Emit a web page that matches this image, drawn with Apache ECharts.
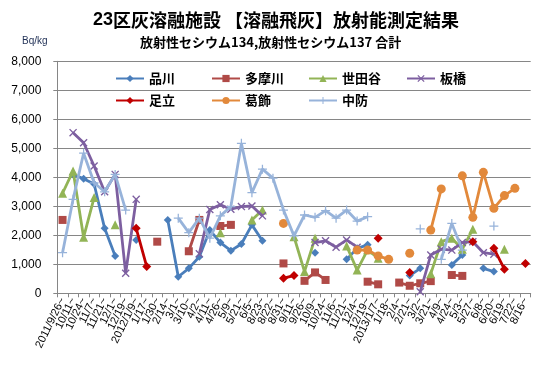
<!DOCTYPE html>
<html><head><meta charset="utf-8">
<script src="https://cdn.jsdelivr.net/npm/echarts@6/dist/echarts.min.js"></script>
<style>html,body{margin:0;padding:0;background:#fff}#c{width:534px;height:365px}</style>
</head><body><div id="c"></div>
<script>
var categories = ['2011/9/26~','10/11~','10/24~','11/7~','11/21~','12/1~','12/19~','2012/1/9~','1/17~','1/30~','2/14~','3/1~','3/10~','4/2~','4/11~','4/26~','5/9~','5/21~','6/5~','8/23~','8/22~','8/31~','9/11~','9/26~','10/9~','10/24~','11/6~','11/21~','12/4~','12/19~','2013/1/7~','1/18~','2/4~','2/21~','3/2~','3/21~','4/9~','4/24~','5/3~','5/27~','6/8~','6/20~','6/19~','7/22~','8/16~'];
var N = null;
var shinagawa = [N,4100,3950,3770,2240,1290,N,1840,N,N,2530,570,860,1260,2180,1750,1470,1700,2360,1810,N,N,N,N,1400,N,N,1170,1550,1670,N,N,N,610,860,N,N,980,1320,N,860,750,N,N,N];
var tamagawa = [2530,N,N,N,N,N,N,N,N,1780,N,N,1450,2530,N,2320,2360,N,N,N,N,1030,N,430,720,460,N,N,N,400,310,N,370,260,345,420,N,630,600,N,N,N,N,N,N];
var setagaya = [3450,4220,1930,3300,N,2360,N,N,N,N,N,N,N,N,N,2090,N,N,2530,2870,N,N,1950,750,1900,N,N,1630,800,1500,1210,N,N,N,N,670,1780,1900,1520,2210,N,N,1520,N,N];
var itabashi = [N,5540,5190,4390,3500,4100,690,3240,N,N,N,N,N,1360,2890,3055,2900,2990,3010,2670,N,N,N,N,1750,1810,1590,1840,1590,N,N,N,N,N,55,1320,1520,1490,1750,1780,1400,1350,N,N,N];
var adachi = [N,N,N,N,N,N,N,2240,920,N,N,N,N,N,N,N,N,N,N,N,N,520,610,N,N,N,N,N,N,N,1900,N,N,720,N,N,N,N,N,1780,N,1550,830,N,1030];
var katsushika = [N,N,N,N,N,N,N,N,N,N,N,N,N,N,N,N,N,N,N,N,N,2410,N,N,N,N,N,N,1490,1490,1290,1170,N,1380,N,2180,3600,N,4050,2620,4170,2930,3370,3620,N];
var chubo = [1400,3240,4830,3810,3500,4100,2870,N,N,N,N,2590,2090,2590,1900,2670,2990,5170,3470,4280,3970,2870,1980,2700,2620,2850,2590,2870,2490,2640,N,N,N,N,2220,N,1170,2410,1490,N,N,2320,N,N,N];
var seriesNames = ['品川','多摩川','世田谷','板橋','足立','葛飾','中防'];
var yTicks = [0,1000,2000,3000,4000,5000,6000,7000,8000];

var xPath = 'path://M0,1.2L1.2,0L10,8.8L8.8,10Z M8.8,0L10,1.2L1.2,10L0,8.8Z';
var plusPath = 'path://M4.3,0H5.7V10H4.3Z M0,4.3H10V5.7H0Z';
var styles = [
  {color:'#4A7EBB', symbol:'diamond', size:8, w:2.8},
  {color:'#B04A47', symbol:'rect', size:8, w:2.8},
  {color:'#92B456', symbol:'triangle', size:9, w:2.8},
  {color:'#7D5FA0', symbol:xPath, size:8, w:2.8},
  {color:'#C00000', symbol:'diamond', size:9, w:2.8},
  {color:'#E2893B', symbol:'circle', size:9, w:2.8},
  {color:'#97B3DA', symbol:plusPath, size:9, w:2.8}
];
var datas = [shinagawa,tamagawa,setagaya,itabashi,adachi,katsushika,chubo];
var series = seriesNames.map(function(n,k){
  var s = styles[k];
  return {name:n, type:'line', data:datas[k], connectNulls:false, showSymbol:true, showAllSymbol:true,
    symbol:s.symbol, symbolSize:s.size, color:s.color,
    lineStyle:{width:s.w, color:s.color}, itemStyle:{color:s.color},
    emphasis:{disabled:true}, z:2+k};
});
var legendPos = [[110,67],[206,67],[303,67],[401,67],[110,89],[206,89],[303,89]];
var legends = seriesNames.map(function(n,k){
  return {data:[n], left:legendPos[k][0], top:legendPos[k][1], itemWidth:28, itemHeight:9, itemGap:0,
    textStyle:{fontSize:13, fontWeight:'bold', color:'#000', fontFamily:'Noto Sans CJK JP'}};
});
var chart = echarts.init(document.getElementById('c'), null, {renderer:'canvas'});
chart.setOption({
  animation:false,
  backgroundColor:'#fff',
  title:[
    {text:'{a|23}{b|区灰溶融施設 【溶融飛灰】放射能測定結果}', left:88, top:6,
     textStyle:{rich:{a:{fontSize:18,fontWeight:'bold',fontFamily:'Liberation Sans',color:'#000'},
                      b:{fontSize:18,fontFamily:'Noto Sans CJK JP',color:'#000'}}}},
    {text:'放射性セシウム134,放射性セシウム137 合計', left:135, top:31,
     textStyle:{fontSize:13,fontWeight:'bold',fontFamily:'Noto Sans CJK JP',color:'#000'}},
    {text:'Bq/kg', left:17, top:31, textStyle:{fontSize:10,fontWeight:'normal',fontFamily:'Liberation Sans',color:'#1F2F55'}}
  ],
  legend:legends,
  grid:{left:57.3, right:3.3, top:61.3, bottom:71.7, containLabel:false},
  xAxis:{type:'category', data:categories, boundaryGap:true,
    axisLine:{lineStyle:{color:'#868686',width:1}},
    axisTick:{show:true, interval:0, length:4, lineStyle:{color:'#868686'}},
    axisLabel:{interval:0, rotate:64, fontSize:11, color:'#000', fontFamily:'Liberation Sans', margin:5}},
  yAxis:{type:'value', min:yTicks[0], max:yTicks[yTicks.length-1], interval:1000,
    axisLine:{show:true, lineStyle:{color:'#868686',width:1}},
    axisTick:{show:true, length:4, lineStyle:{color:'#868686'}},
    splitLine:{show:true, lineStyle:{color:'#868686',width:1}},
    axisLabel:{fontSize:12, color:'#000', fontFamily:'Liberation Sans', margin:16,
      formatter:function(v){return v.toString().replace(/\B(?=(\d{3})+(?!\d))/g, ',');}}},
  series:series
});
</script></body></html>
